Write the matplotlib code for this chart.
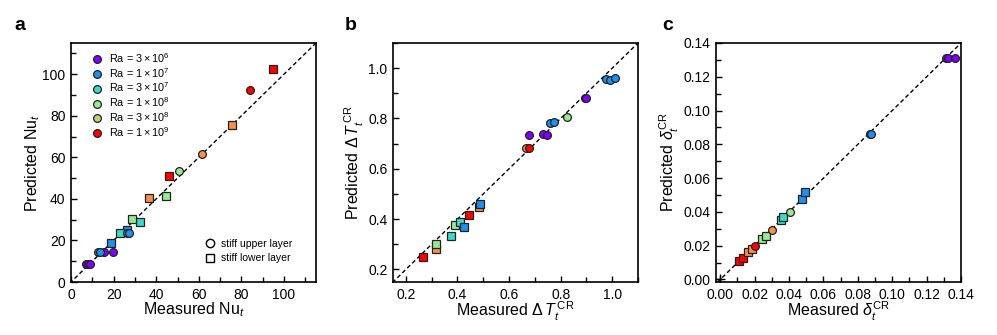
import matplotlib
matplotlib.use("Agg")
import matplotlib.pyplot as plt
from matplotlib.lines import Line2D
from matplotlib.ticker import MultipleLocator

plt.rcParams['font.family'] = ['Liberation Sans', 'DejaVu Sans']
plt.rcParams['mathtext.fontset'] = 'custom'
plt.rcParams['mathtext.rm'] = 'Liberation Sans'
plt.rcParams['mathtext.it'] = 'Liberation Sans:italic'
plt.rcParams['mathtext.bf'] = 'Liberation Sans:bold'

# ---------------- data ----------------
ra_labels = [r'Ra$\,{=}\,3\,{\times}\,10^{6}$', r'Ra$\,{=}\,1\,{\times}\,10^{7}$',
             r'Ra$\,{=}\,3\,{\times}\,10^{7}$', r'Ra$\,{=}\,1\,{\times}\,10^{8}$',
             r'Ra$\,{=}\,3\,{\times}\,10^{8}$', r'Ra$\,{=}\,1\,{\times}\,10^{9}$']
data_colors = ['#7f00ff', '#1f8ff0', '#3dd9c8', '#9ae897', '#f5914c', '#ff0000']
legend_colors = ['#7f00ff', '#1f8ff0', '#3dd9c8', '#9ae897', '#c8cc78', '#ff0000']

# panel a : Nu_t  (measured, predicted, Ra index, layer: 'U' upper / 'L' lower)
a_meas = [18.7, 26.3, 23.2, 32.2, 28.8, 44.7, 36.4, 75.4, 46.0, 95.0,
          7.0, 8.0, 9.0, 15.6, 19.5, 12.8, 13.8, 26.5, 27.0, 50.5, 61.4, 84.1]
a_pred = [18.6, 25.1, 23.4, 28.7, 30.3, 41.5, 40.3, 75.4, 51.2, 102.4,
          8.5, 8.5, 8.5, 14.5, 14.5, 14.3, 14.5, 23.8, 23.5, 53.3, 61.7, 92.3]
a_ra = [1, 1, 2, 2, 3, 3, 4, 4, 5, 5,
        0, 0, 0, 0, 0, 1, 1, 1, 1, 3, 4, 5]
a_layer = ['L'] * 10 + ['U'] * 12

# panel b : Delta T_t^CR
b_meas = [0.266, 0.446, 0.316, 0.485, 0.316, 0.389, 0.375, 0.411, 0.427, 0.486,
          0.666, 0.679, 0.676, 0.731, 0.746, 0.894, 0.899,
          0.757, 0.776, 0.974, 0.992, 1.009, 0.823]
b_pred = [0.249, 0.416, 0.280, 0.447, 0.300, 0.376, 0.331, 0.388, 0.368, 0.460,
          0.682, 0.682, 0.736, 0.737, 0.733, 0.883, 0.883,
          0.781, 0.785, 0.958, 0.952, 0.960, 0.806]
b_ra = [5, 5, 4, 4, 3, 3, 2, 2, 1, 1,
        4, 5, 0, 0, 0, 0, 0, 1, 1, 1, 1, 1, 3]
b_layer = ['L'] * 10 + ['U'] * 13

# panel c : delta_t^CR
c_meas = [0.0111, 0.0131, 0.0162, 0.0182, 0.0244, 0.0264, 0.0353, 0.0365, 0.0473, 0.0492,
          0.0203, 0.0303, 0.0404, 0.0870, 0.0877, 0.1312, 0.1326, 0.1363]
c_pred = [0.0108, 0.0128, 0.0160, 0.0180, 0.0240, 0.0256, 0.0354, 0.0370, 0.0478, 0.0516,
          0.0196, 0.0292, 0.0398, 0.0862, 0.0862, 0.1314, 0.1314, 0.1314]
c_ra = [5, 5, 4, 4, 3, 3, 2, 2, 1, 1,
        5, 4, 3, 1, 1, 0, 0, 0]
c_layer = ['L'] * 10 + ['U'] * 8

layer_marker = {'U': 'o', 'L': 's'}
layer_labels = ['stiff upper layer', 'stiff lower layer']

# ---------------- figure ----------------
fig = plt.figure(figsize=(9.97, 3.35), dpi=100)
W, H = 997, 335
def add_ax(l, t, r, b):
    return fig.add_axes([l / W, 1 - b / H, (r - l) / W, (b - t) / H])

axa = add_ax(71, 43, 316, 282)
axb = add_ax(393, 43, 638, 282)
axc = add_ax(716, 43, 961, 282)

def draw(ax, xs, ys, ras, layers):
    for x, y, r, l in zip(xs, ys, ras, layers):
        ax.plot([x], [y], linestyle='none', marker=layer_marker[l], ms=5.6,
                mfc=data_colors[r], mec='#222222', mew=0.9, zorder=3)

def style(ax, lim, major, minor, fmt):
    ax.plot([-10, 200], [-10, 200], color='black', lw=1.0, ls=(0, (3, 2)), zorder=2)
    ax.set_xlim(lim)
    ax.set_ylim(lim)
    ax.xaxis.set_major_locator(MultipleLocator(major))
    ax.xaxis.set_minor_locator(MultipleLocator(minor))
    ax.yaxis.set_major_locator(MultipleLocator(major))
    ax.yaxis.set_minor_locator(MultipleLocator(minor))
    ax.tick_params(which='both', direction='in', labelsize=10, top=False, right=False)
    ax.tick_params(which='major', length=4.5, width=1.0, pad=4)
    ax.tick_params(which='minor', length=3.5, width=1.0)
    for s in ax.spines.values():
        s.set_linewidth(1.2)
    ax.xaxis.set_major_formatter(matplotlib.ticker.FormatStrFormatter(fmt))
    ax.yaxis.set_major_formatter(matplotlib.ticker.FormatStrFormatter(fmt))

draw(axa, a_meas, a_pred, a_ra, a_layer)
style(axa, (0, 115), 20, 10, '%d')
axa.set_xlabel(r'Measured Nu$_t$', fontsize=11.5, labelpad=-1)
axa.set_ylabel(r'Predicted Nu$_t$', fontsize=11.5, labelpad=0)

draw(axb, b_meas, b_pred, b_ra, b_layer)
style(axb, (0.15, 1.1), 0.2, 0.1, '%.1f')
axb.set_xlabel(r'Measured $\Delta\,T_t^{\,\mathrm{CR}}$', fontsize=11.5, labelpad=-1)
axb.set_ylabel(r'Predicted $\Delta\,T_t^{\,\mathrm{CR}}$', fontsize=11.5, labelpad=1.5)

draw(axc, c_meas, c_pred, c_ra, c_layer)
style(axc, (-0.0025, 0.14), 0.02, 0.01, '%.2f')
axc.set_ylim(-0.0015, 0.14)
axc.plot([0], [0], marker='+', color='black', ms=7, mew=1.0, zorder=4)
axc.set_xlabel(r'Measured $\delta_t^{\mathrm{CR}}$', fontsize=11.5, labelpad=-1)
axc.set_ylabel(r'Predicted $\delta_t^{\mathrm{CR}}$', fontsize=11.5, labelpad=1.5)

# legends on panel a
ra_handles = [Line2D([], [], linestyle='none', marker='o', ms=5.6, mfc=c, mec='#222222', mew=0.9)
              for c in legend_colors]
leg1 = axa.legend(ra_handles, ra_labels, loc='upper left', bbox_to_anchor=(0.065, 0.985),
                  frameon=False, fontsize=7.8, handletextpad=0.6, labelspacing=0.1,
                  handlelength=1.0, borderaxespad=0)
axa.add_artist(leg1)
lay_handles = [Line2D([], [], linestyle='none', marker=m, ms=6, mfc='white', mec='black', mew=1.0)
               for m in ['o', 's']]
axa.legend(lay_handles, layer_labels, loc='lower right', bbox_to_anchor=(0.92, 0.06),
           frameon=False, fontsize=7.5, handletextpad=0.6, labelspacing=0.45,
           handlelength=1.0, borderaxespad=0)

# panel letters
fig.text(14 / W, 1 - 25 / H, 'a', fontsize=14, fontweight='bold', va='center', ha='left')
fig.text(345 / W, 1 - 25 / H, 'b', fontsize=14, fontweight='bold', va='center', ha='left')
fig.text(662 / W, 1 - 25 / H, 'c', fontsize=14, fontweight='bold', va='center', ha='left')

fig.savefig('out.png', dpi=100)
